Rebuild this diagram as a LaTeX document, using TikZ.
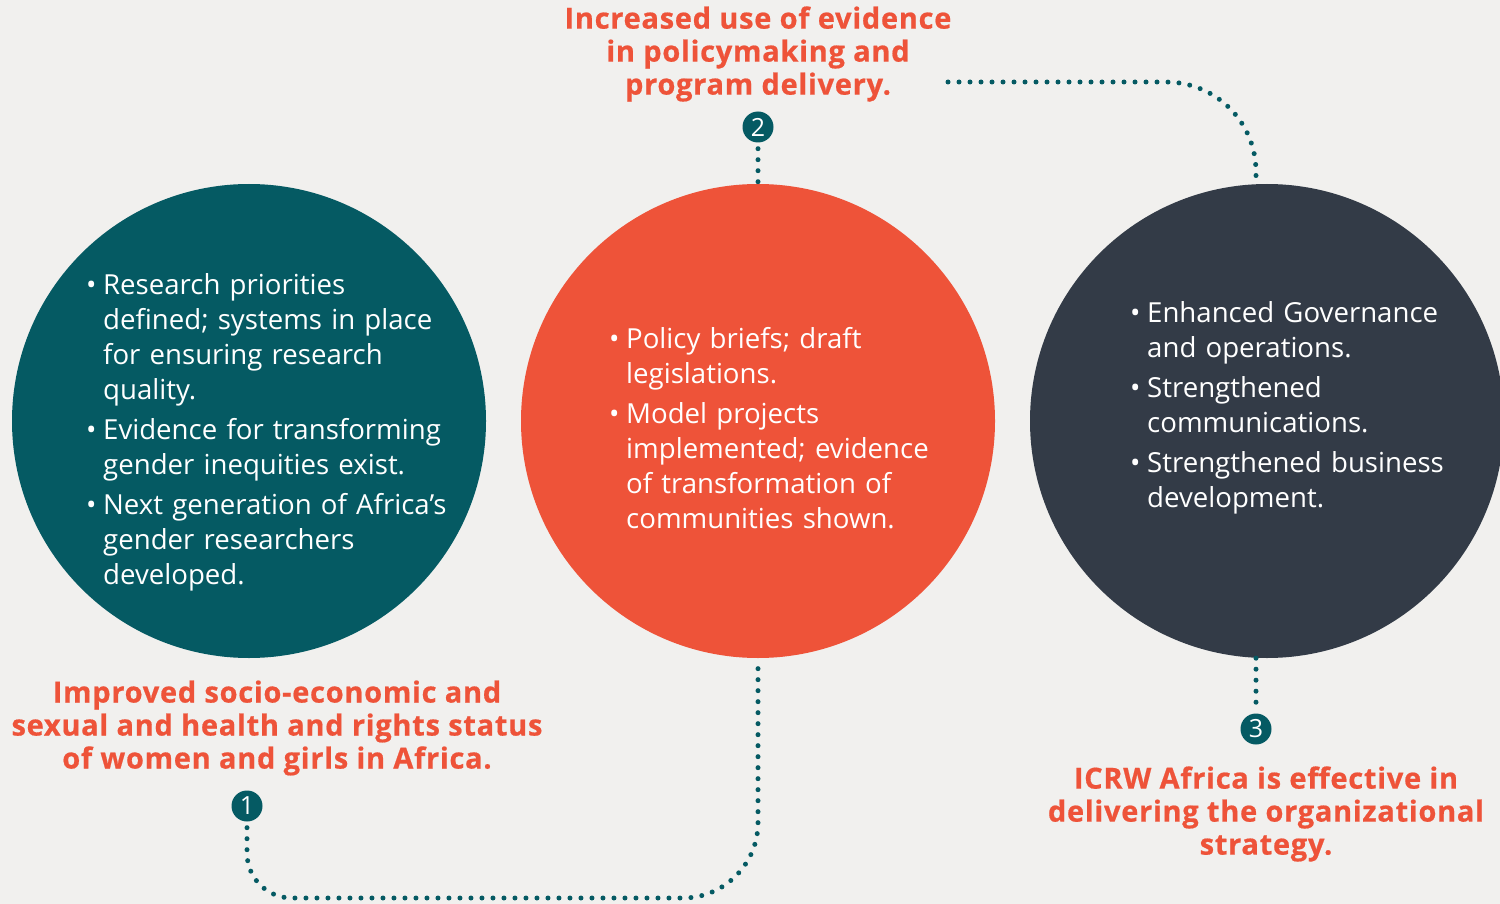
\documentclass[tikz,border=0pt]{standalone}
\usepackage{fontspec}
\setmainfont{Open Sans}
\usetikzlibrary{positioning}

\definecolor{bgpaper}{HTML}{F1F0EE}
\definecolor{icteal}{HTML}{055A63}
\definecolor{icorange}{HTML}{EE5339}
\definecolor{icslate}{HTML}{333B47}

\newcommand{\bitem}[1]{\par\hangindent=17pt\hangafter=1\noindent\makebox[17pt][l]{\textbullet}#1\par}

\begin{document}
\begin{tikzpicture}[x=1pt, y=-1pt,
  disc/.style={circle, minimum size=474pt, inner sep=0pt},
  badge/.style={circle, fill=icteal, text=white, minimum size=31pt, inner sep=0pt, font=\fontsize{25}{25}\selectfont},
  goal/.style={text=icorange, align=center, inner sep=0pt, font=\fontsize{29}{33}\selectfont\bfseries\addfontfeatures{LetterSpace=2.5,FakeBold=0.6}},
  bullets/.style={text=white, inner sep=0pt, anchor=north west, text width=#1, font=\fontsize{27.6}{35}\selectfont\setlength{\parskip}{5pt}},
  dots/.style={icteal, line width=5pt, line cap=round, dash pattern=on 0pt off 11pt}]
  \useasboundingbox (0,0) rectangle (1500,904);
  \fill[bgpaper] (0,0) rectangle (1500,904);

  % Circles
  \node[disc, fill=icteal] (lc) at (249,421) {};
  \node[disc, fill=icorange] (mc) at (758,421) {};
  \node[disc, fill=icslate] (rc) at (1267,421) {};

  % Bullet lists
  \node[bullets=400pt] (lt) at (86,254) {%
    \bitem{Research priorities\newline defined; systems in place\newline for ensuring research\newline quality.}%
    \bitem{Evidence for transforming\newline gender inequities exist.}%
    \bitem{Next generation of Africa’s\newline gender researchers\newline developed.}};
  \node[bullets=400pt] (mt) at (609,308) {%
    \bitem{Policy briefs; draft\newline legislations.}%
    \bitem{Model projects\newline implemented; evidence\newline of transformation of\newline communities shown.}};
  \node[bullets=400pt] (rt) at (1130,282) {%
    \bitem{Enhanced Governance\newline and operations.}%
    \bitem{Strengthened\newline communications.}%
    \bitem{Strengthened business\newline development.}};

  % Numbered badges
  \node[badge] (b1) at (247,806) {1};
  \node[badge] (b2) at (758,127) {2};
  \node[badge] (b3) at (1256,729) {3};

  % Outcome statements
  \node[goal] (g2) at (758,54) {Increased use of evidence\\in policymaking and\\program delivery.};
  \node[goal] (g1) at (277,728) {Improved socio-economic and\\sexual and health and rights status\\of women and girls in Africa.};
  \node[goal] (g3) at (1266,814) {ICRW Africa is effective in\\delivering the organizational\\strategy.};

  % Dotted connectors
  \coordinate (tstart) at (948,82);
  \draw[dots, shorten <=6pt] (b2.south) -- (mc.north);
  \draw[dots, shorten >=6pt] (rc.south -| b3) -- (b3.north);
  \draw[dots] (tstart) -- (1166,82) .. controls (1216,82) and (1256,122) .. (1256,172) -- (rc.north -| b3);
  \draw[dots, shorten <=6pt] (b1.south) -- (247,853) .. controls (247,878) and (267,898) .. (292,898)
    -- (683,898) .. controls (724,898) and (758,864) .. (758,823) -- (mc.south);
\end{tikzpicture}
\end{document}
